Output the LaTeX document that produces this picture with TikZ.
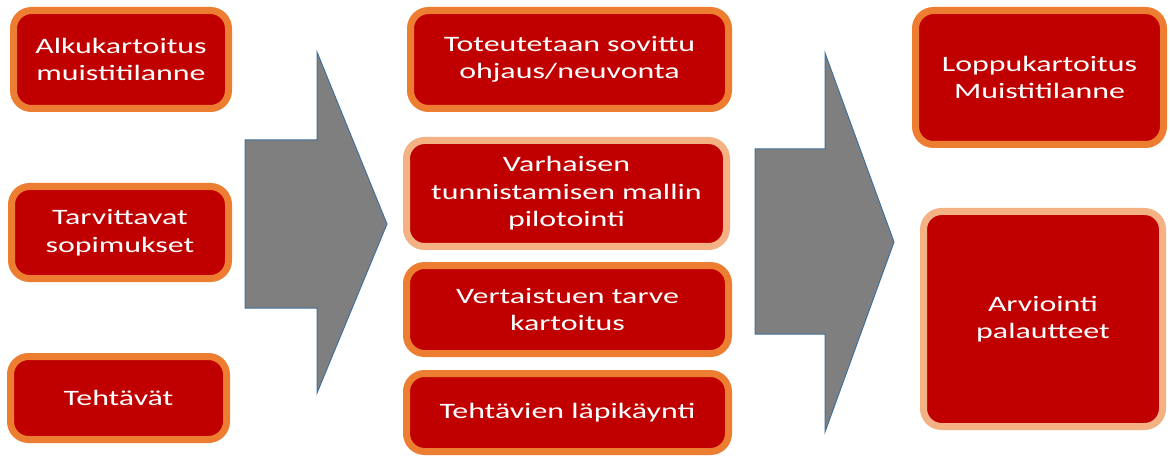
\documentclass[tikz,border=0pt]{standalone}
\usepackage{fontspec}
\setmainfont{Carlito}[FakeStretch=1.45]
\definecolor{boxred}{HTML}{C00000}
\definecolor{edgeorange}{HTML}{ED7D31}
\definecolor{edgelight}{HTML}{F4B183}
\definecolor{arrowgray}{HTML}{7F7F7F}
\definecolor{arrowedge}{HTML}{41719C}
\begin{document}
\begin{tikzpicture}[x=1pt,y=-1pt,
  redbox/.style={draw=edgeorange, line width=7pt, fill=boxred, rounded corners=18pt,
    text=white, align=center, inner sep=0pt, font=\fontsize{22}{27.5}\selectfont},
  lightbox/.style={redbox, draw=edgelight},
  bigarrow/.style={fill=arrowgray, draw=arrowedge, line width=1pt, line join=miter}]
\useasboundingbox (0,0) rectangle (1170,457);
% left column
\node[redbox, minimum width=215pt, minimum height=98pt] (a) at (121,59.5) {Alkukartoitus\\muistitilanne};
\node[redbox, minimum width=217pt, minimum height=92pt] (b) at (120,232.5) {Tarvittavat\\sopimukset};
\node[redbox, minimum width=216pt, minimum height=83pt] (c) at (118.5,398) {Tehtävät};
% middle column
\node[redbox, minimum width=318pt, minimum height=98pt] (d) at (569.5,59.5) {Toteutetaan sovittu\\ohjaus/neuvonta};
\node[lightbox, minimum width=320pt, minimum height=106pt] (e) at (566.5,193.5) {Varhaisen\\tunnistamisen mallin\\pilotointi};
\node[redbox, minimum width=322pt, minimum height=88pt] (f) at (567.5,309.5) {Vertaistuen tarve\\kartoitus};
\node[redbox, minimum width=322pt, minimum height=78pt] (g) at (567.5,412.5) {Tehtävien läpikäynti};
% right column
\node[redbox, minimum width=248pt, minimum height=134pt] (h) at (1039.5,77.5) {Loppukartoitus\\Muistitilanne};
\node[lightbox, minimum width=239pt, minimum height=215pt] (i) at (1043,319) {Arviointi\\palautteet};
% arrows
\draw[bigarrow] (245,140) -- (317,140) -- (317,52) -- (387,224) -- (317,393) -- (317,308) -- (245,308) -- cycle;
\draw[bigarrow] (755,149) -- (825,149) -- (825,53) -- (894,242) -- (825,432) -- (825,334) -- (755,334) -- cycle;
\end{tikzpicture}
\end{document}
